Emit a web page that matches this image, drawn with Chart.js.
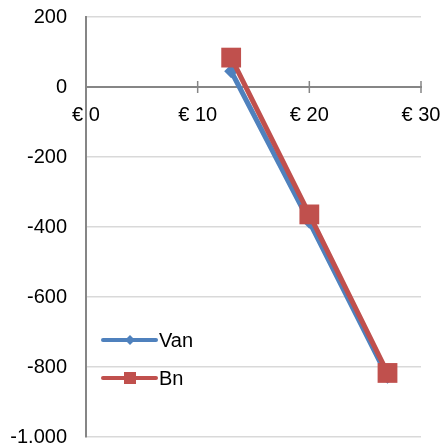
<!DOCTYPE html>
<html>
<head>
<meta charset="utf-8">
<script src="https://cdn.jsdelivr.net/npm/chart.js@4"></script>
<style>
  html, body { margin: 0; padding: 0; background: #fff; }
  #wrap { width: 443px; height: 447px; }
</style>
</head>
<body>
<div id="wrap"><canvas id="c" width="443" height="447"></canvas></div>
<script>
const seriesNames = ['Van', 'Bn'];
const xValues = [13, 20, 27];
const vanValues = [45, -385, -828];
const bnValues = [84, -364, -817];
const xTicks = [0, 10, 20, 30];
const yTicks = [200, 0, -200, -400, -600, -800, -1000];

const BLUE = '#4F81BD';
const RED = '#C0504D';
const AXIS = '#868686';
const FONT = '"Liberation Sans", Arial, sans-serif';
const CLEAR = 'rgba(0,0,0,0)';

function fmtY(v) {
  const s = Math.abs(v).toString().replace(/\B(?=(\d{3})+(?!\d))/g, '.');
  return (v < 0 ? '-' : '') + s;
}

const crossTicks = {
  id: 'crossTicks',
  afterDraw(chart) {
    const ctx = chart.ctx;
    const xs = chart.scales.x, ys = chart.scales.y;
    const y0 = ys.getPixelForValue(0);
    ctx.save();
    ctx.strokeStyle = AXIS;
    ctx.lineWidth = 1.5;
    xTicks.forEach(t => {
      if (t === 0) return;
      const px = xs.getPixelForValue(t);
      ctx.beginPath();
      ctx.moveTo(px, y0 - 6);
      ctx.lineTo(px, y0 + 6);
      ctx.stroke();
    });
    ctx.restore();
  }
};

const customLegend = {
  id: 'customLegend',
  afterDraw(chart) {
    const ctx = chart.ctx;
    const items = [
      { name: seriesNames[0], color: BLUE, style: 'diamond', y: 340 },
      { name: seriesNames[1], color: RED, style: 'square', y: 378 }
    ];
    ctx.save();
    items.forEach(it => {
      ctx.strokeStyle = it.color;
      ctx.fillStyle = it.color;
      ctx.lineWidth = 4;
      ctx.lineCap = 'round';
      ctx.beginPath();
      ctx.moveTo(103, it.y);
      ctx.lineTo(156, it.y);
      ctx.stroke();
      const cx = 130;
      if (it.style === 'diamond') {
        ctx.beginPath();
        ctx.moveTo(cx, it.y - 5);
        ctx.lineTo(cx + 5, it.y);
        ctx.lineTo(cx, it.y + 5);
        ctx.lineTo(cx - 5, it.y);
        ctx.closePath();
        ctx.fill();
      } else {
        ctx.fillRect(cx - 6, it.y - 6, 12, 12);
      }
      ctx.fillStyle = '#000';
      ctx.font = '20px ' + FONT;
      ctx.textBaseline = 'middle';
      ctx.textAlign = 'left';
      ctx.fillText(it.name, 159, it.y + 1);
    });
    ctx.restore();
  }
};

new Chart(document.getElementById('c'), {
  type: 'line',
  data: {
    datasets: [
      {
        label: seriesNames[0],
        data: xValues.map((x, i) => ({ x: x, y: vanValues[i] })),
        borderColor: BLUE,
        backgroundColor: BLUE,
        borderWidth: 5,
        pointStyle: 'rectRot',
        pointRadius: 7,
        pointBorderWidth: 0,
        order: 1
      },
      {
        label: seriesNames[1],
        data: xValues.map((x, i) => ({ x: x, y: bnValues[i] })),
        borderColor: RED,
        backgroundColor: RED,
        borderWidth: 5,
        pointStyle: 'rect',
        pointRadius: 14,
        pointBorderWidth: 0,
        order: 0
      }
    ]
  },
  options: {
    responsive: false,
    animation: false,
    devicePixelRatio: 1,
    layout: { autoPadding: false, padding: { top: 17, right: 22, bottom: 10, left: 0 } },
    plugins: { legend: { display: false }, tooltip: { enabled: false } },
    scales: {
      x: {
        type: 'linear',
        min: 0,
        max: 30,
        position: { y: 0 },
        afterFit(s) { s.height = 0; s.paddingLeft = 0; s.paddingRight = 0; },
        afterBuildTicks(s) { s.ticks = xTicks.map(v => ({ value: v })); },
        grid: { display: true, drawOnChartArea: false, drawTicks: true, tickLength: 16, tickColor: CLEAR, color: CLEAR },
        border: { display: true, color: AXIS, width: 2 },
        ticks: {
          padding: 0,
          color: '#000',
          font: { family: FONT, size: 20 },
          maxRotation: 0,
          autoSkip: false,
          callback: v => '€ ' + v
        }
      },
      y: {
        type: 'linear',
        min: -1000,
        max: 200,
        afterFit(s) { s.width = 86; s.paddingTop = 0; s.paddingBottom = 0; },
        afterBuildTicks(s) { s.ticks = yTicks.map(v => ({ value: v })); },
        grid: { color: '#D9D9D9', lineWidth: 1.5, drawTicks: true, tickLength: 19, tickColor: CLEAR },
        border: { display: true, color: AXIS, width: 2 },
        ticks: {
          padding: 0,
          color: '#000',
          font: { family: FONT, size: 20 },
          autoSkip: false,
          callback: v => fmtY(v)
        }
      }
    }
  },
  plugins: [crossTicks, customLegend]
});
</script>
</body>
</html>
